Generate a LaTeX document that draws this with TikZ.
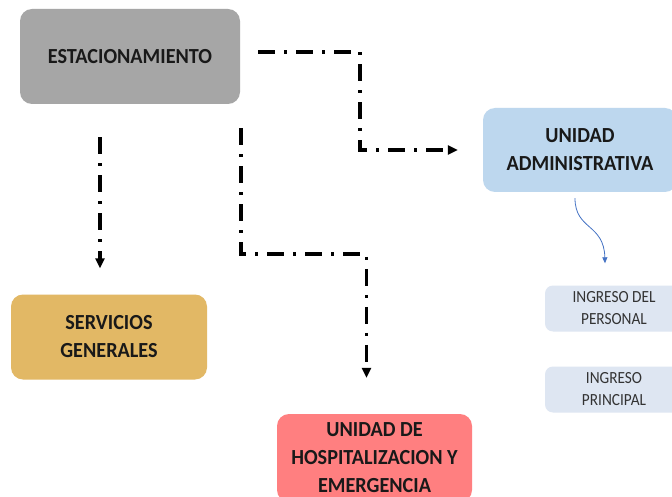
\documentclass[tikz,border=0pt]{standalone}
\usepackage{fontspec}
\setmainfont{Carlito}
\newfontfamily\mainf[FakeStretch=0.94]{Carlito}
\newfontfamily\subf[FakeStretch=0.9]{Carlito}
\usetikzlibrary{arrows.meta,calc}
\definecolor{cgray}{HTML}{A6A6A6}
\definecolor{cblue}{HTML}{BDD7EE}
\definecolor{cgold}{HTML}{E2B865}
\definecolor{cred}{HTML}{FF7F80}
\definecolor{clight}{HTML}{DEE6F2}
\definecolor{ccurve}{HTML}{4472C4}
\begin{document}
\begin{tikzpicture}[x=1pt,y=-1pt,
  box/.style={rounded corners=12pt, inner sep=0pt, align=center,
    font=\mainf\fontsize{21.5}{28}\selectfont\bfseries, text=black!90},
  subbox/.style={rounded corners=8pt, inner sep=0pt, align=center, fill=clight,
    font=\subf\fontsize{17}{22}\selectfont, text=black!80},
  flow/.style={line width=3.5pt, dash pattern=on 17pt off 9pt on 3pt off 9pt,
    -{Triangle[length=10pt,width=9pt]}},
  thin/.style={ccurve, line width=0.8pt, -{Triangle[length=6pt,width=5pt]}}]
\useasboundingbox (0,0) rectangle (672,497);
\fill[white] (0,0) rectangle (672,497);
\node[box, fill=cgray, minimum width=220pt, minimum height=95pt] (est) at (130,56.5) {ESTACIONAMIENTO};
\node[box, fill=cblue, minimum width=194pt, minimum height=84pt] (ua) at (580,150) {UNIDAD\\ADMINISTRATIVA};
\node[box, fill=cgold, minimum width=196pt, minimum height=85pt] (sg) at (109,337) {SERVICIOS\\GENERALES};
\node[box, fill=cred, minimum width=195pt, minimum height=88pt] (uh) at (374.5,458) {UNIDAD DE\\HOSPITALIZACION Y\\EMERGENCIA};
\node[subbox, minimum width=138pt, minimum height=46pt] (ip) at (614,308.5) {INGRESO DEL\\PERSONAL};
\node[subbox, minimum width=138pt, minimum height=46pt] (ipr) at (614,389.5) {INGRESO\\PRINCIPAL};
% free ends
\coordinate (a1) at ($(est.east)+(18,-4.5)$);
\coordinate (a2) at ($(ua.west)+(-25,0)$);
\coordinate (b1) at ($(est.south)+(-30,33)$);
\coordinate (b2) at ($(sg.north)+(-9,-26)$);
\coordinate (c1) at ($(est.south east)+(1,24)$);
\coordinate (c2) at ($(uh.north)+(-8,-36)$);
\coordinate (d1) at ($(ua.south)+(-5,6)$);
\coordinate (d2) at ($(ip.north)+(-9,-22)$);
\draw[flow] (a1) -- (a1 -| 360,0) |- (a2);
\draw[flow] (b1) -- (b2);
\draw[flow] (c1) -- (c1 |- 0,254) -| (c2);
\draw[thin] (d1) .. controls ($(d1)+(0,32)$) and ($(d2)+(-1,-40)$) .. (d2);
\end{tikzpicture}
\end{document}
